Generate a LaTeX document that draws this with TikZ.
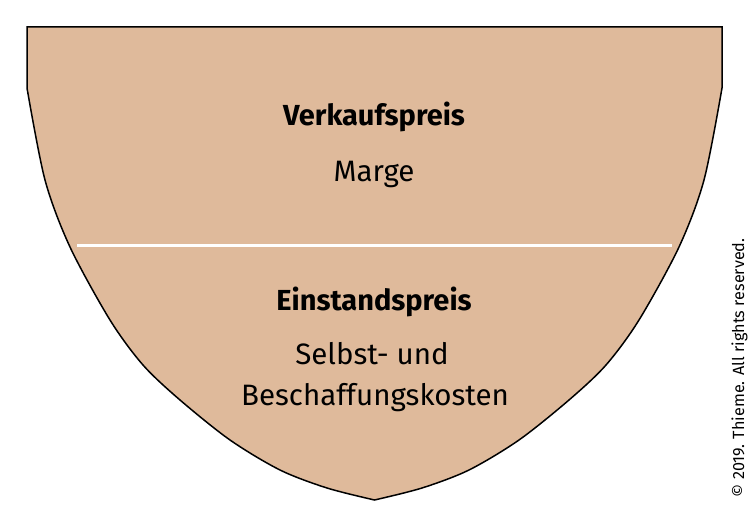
\documentclass[tikz,border=0pt]{standalone}
\usepackage{fontspec}
\setmainfont{Fira Sans}
\definecolor{tan}{RGB}{223,186,155}
\begin{document}
\begin{tikzpicture}[x=1pt,y=-1pt,
  title/.style={font=\fontsize{29}{32}\selectfont\bfseries, anchor=base, inner sep=0pt},
  body/.style={font=\fontsize{29.5}{40}\selectfont, anchor=base, inner sep=0pt, align=center},
  copy/.style={font=\fontsize{16.2}{18}\selectfont, rotate=90, anchor=base, inner sep=0pt}]
\useasboundingbox (0,0) rectangle (750,526);
\draw[fill=tan, line width=1.5pt, line join=miter]
  (27,27) -- (722,27) -- (722,88)
  -- plot[smooth] coordinates {(722,88) (704,180) (679,247) (639,320) (606,365) (569,400) (519,440) (469,470) (422,488) (374.5,500)}
  -- plot[smooth] coordinates {(374.5,500) (327,488) (280,470) (230,440) (180,400) (143,365) (110,320) (70,247) (45,180) (27,88)}
  -- cycle;
\coordinate (lineL) at (77,246);
\coordinate (lineR) at (672,246);
\draw[white, line width=3pt] (lineL) -- (lineR);
\node[title] (vk) at (374,126) {Verkaufspreis};
\node[body] (marge) at (374,182) {Marge};
\node[title] (ep) at (374,311) {Einstandspreis};
\node[body] (sb) at (372,365) {Selbst- und};
\node[body] (bk) at (375,406) {Beschaffungskosten};
\node[copy] (cr) at (744,368) {© 2019. Thieme. All rights reserved.};
\end{tikzpicture}
\end{document}
